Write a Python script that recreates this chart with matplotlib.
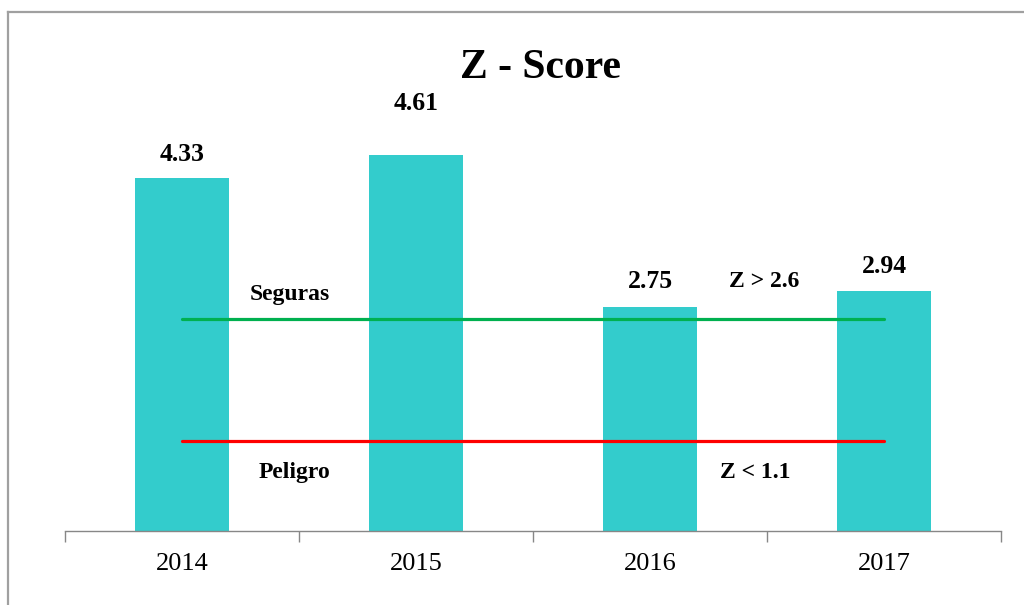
import matplotlib.pyplot as plt
from matplotlib.lines import Line2D

years = ["2014", "2015", "2016", "2017"]
z_scores = [4.33, 4.61, 2.75, 2.94]
safe_limit = 2.6
danger_limit = 1.1
# extra label lift in points (2015 label sits higher in the original)
label_lift = [17, 37, 18, 18]

plt.rcParams['font.family'] = ['Liberation Serif', 'DejaVu Serif']

fig = plt.figure(figsize=(10.24, 6.05), dpi=100)
ax = fig.add_axes([65 / 1024, 1 - 531 / 605, 936 / 1024, (531 - 123.5) / 605])

x = list(range(len(years)))
ax.bar(x, z_scores, width=0.4, color='#33CCCC', zorder=2)

for xi, v, lift in zip(x, z_scores, label_lift):
    ax.annotate(f"{v:.2f}", (xi, v), xytext=(0, lift), textcoords='offset points',
                ha='center', va='center', fontsize=18.5, fontweight='bold')

ax.plot([x[0], x[-1]], [safe_limit, safe_limit], color='#00B050', lw=2.3,
        solid_capstyle='round', zorder=3)
ax.plot([x[0], x[-1]], [danger_limit, danger_limit], color='#FF0000', lw=2.3,
        solid_capstyle='round', zorder=3)

ax.text(0.46, 2.9, "Seguras", ha='center', va='center', fontsize=17, fontweight='bold')
ax.text(0.48, 0.72, "Peligro", ha='center', va='center', fontsize=17, fontweight='bold')
ax.text(2.49, 3.06, "Z > 2.6", ha='center', va='center', fontsize=17, fontweight='bold')
ax.text(2.45, 0.72, "Z < 1.1", ha='center', va='center', fontsize=17, fontweight='bold')

ax.set_xlim(-0.5, len(years) - 0.5)
ax.set_ylim(0, 5)
ax.set_xticks(x)
ax.set_xticklabels(years, fontsize=19)
ax.set_xticks([i - 0.5 for i in range(len(years) + 1)], minor=True)
ax.tick_params(axis='x', which='major', length=0, pad=16)
ax.tick_params(axis='x', which='minor', length=8, color='#878787', width=1)
ax.set_yticks([])
for side in ['top', 'right', 'left']:
    ax.spines[side].set_visible(False)
ax.spines['bottom'].set_color('#878787')
ax.spines['bottom'].set_linewidth(1)

fig.text(541 / 1024, 1 - 68 / 605, "Z - Score", ha='center', va='center',
         fontsize=30, fontweight='bold')

# outer frame (left and top edges only visible)
fig.add_artist(Line2D([8 / 1024, 8 / 1024], [0, 1 - 12 / 605], color='#A0A0A0', lw=1.6,
                      transform=fig.transFigure))
fig.add_artist(Line2D([8 / 1024, 1], [1 - 12 / 605, 1 - 12 / 605], color='#A0A0A0', lw=1.6,
                      transform=fig.transFigure))

fig.savefig("out.png", dpi=100)
